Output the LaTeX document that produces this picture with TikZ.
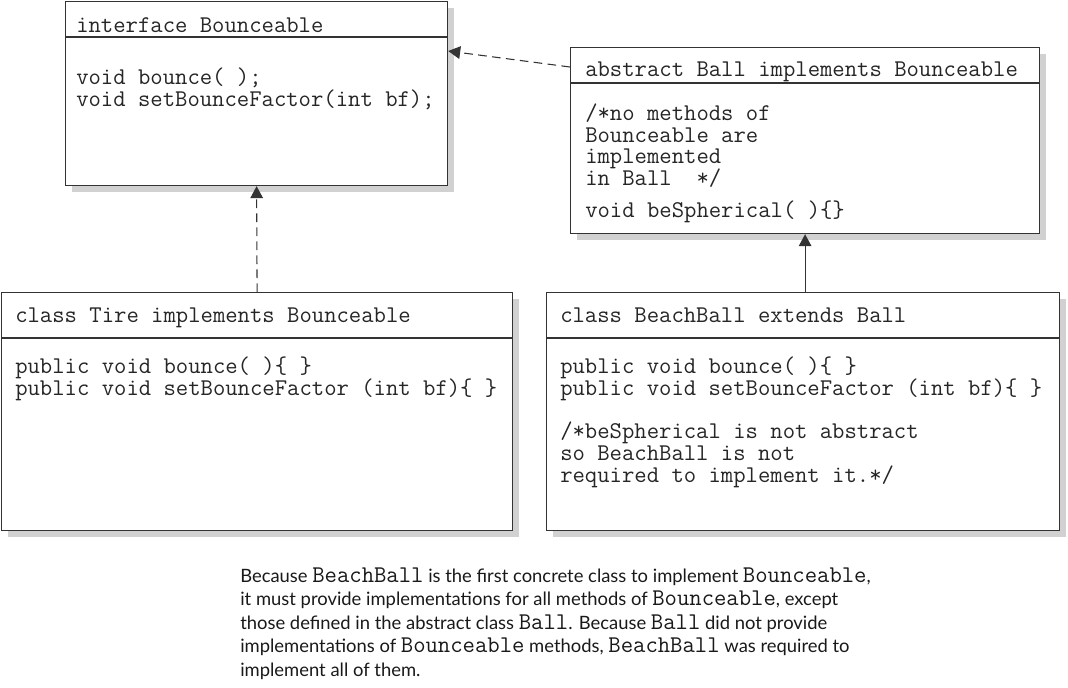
\documentclass[tikz,border=0pt]{standalone}
\usepackage{fontspec}
\setmainfont{Lato}
\newcommand{\codefont}{\ttfamily}
\newcommand{\tightlines}{\lineskiplimit=-20pt\relax}
\usetikzlibrary{arrows.meta, shadows, calc}
\newcommand{\cw}[1]{{\codefont\fontsize{18pt}{17pt}\selectfont #1}}

\begin{document}
\begin{tikzpicture}[x=0.75pt, y=-0.75pt, >={Triangle[length=9pt,width=9.5pt]},
  umlbox/.style={draw=black!80, line width=0.9pt, fill=white, anchor=north west,
    inner sep=0pt, drop shadow={shadow xshift=4.5pt, shadow yshift=-4.5pt, fill=black!18, opacity=1}},
  code/.style={anchor=base west, inner sep=0pt, align=left,
    font=\codefont\fontsize{18pt}{16.4pt}\selectfont\tightlines, text=black!85},
  link/.style={draw=black!80, line width=0.8pt},
  dashlink/.style={link, dash pattern=on 6.5pt off 4pt},
]
\useasboundingbox (0,0) rectangle (1068,687);
% the four classes
\node[umlbox, minimum width=286.5pt, minimum height=138pt] (iface) at (65,1) {};
\node[umlbox, minimum width=351.75pt, minimum height=139.5pt] (ball) at (570,47) {};
\node[umlbox, minimum width=383.25pt, minimum height=178.5pt] (tire) at (1,292) {};
\node[umlbox, minimum width=384.75pt, minimum height=178.5pt] (beach) at (546,292) {};
% header rules
\draw[link] ($(iface.north west)+(0,36)$) -- ($(iface.north east)+(0,36)$);
\draw[link] ($(ball.north west)+(0,36)$) -- ($(ball.north east)+(0,36)$);
\draw[link] ($(tire.north west)+(0,46)$) -- ($(tire.north east)+(0,46)$);
\draw[link] ($(beach.north west)+(0,46)$) -- ($(beach.north east)+(0,46)$);
% texts (base = last line)
\node[code] (ifaceHead) at (76,32) {interface Bounceable};
\node[code] (ifaceBody) at (76,106) {void bounce( );\\void setBounceFactor(int bf);};
\node[code] (ballHead) at (585,76) {abstract Ball implements Bounceable};
\node[code] (ballBody) at (585,217) {/*no methods of\\Bounceable are\\implemented\\in Ball~~*/\\[7pt]void beSpherical( )\{\}};
\node[code] (tireHead) at (15,322) {class Tire implements Bounceable};
\node[code] (tireBody) at (15,395) {public void bounce( )\{ \}\\public void setBounceFactor (int bf)\{ \}};
\node[code] (beachHead) at (560,322) {class BeachBall extends Ball};
\node[code] (beachBody) at (560,482) {public void bounce( )\{ \}\\public void setBounceFactor (int bf)\{ \}\\[15.5pt]/*beSpherical is not abstract\\so BeachBall is not\\required to implement it.*/};
% relations
\draw[dashlink, ->] ($(ball.north west)+(0,20)$) -- ($(iface.north east)+(0,50)$);
\draw[dashlink, ->] (tire.north) -- (iface.south);
\draw[link, ->] (ball.south |- beach.north) -- (ball.south);
% caption
\node[anchor=base west, inner sep=0pt, align=left, text=black!90,
  font=\fontsize{13.8pt}{17.6pt}\selectfont\tightlines] (note) at (240,676)
  {Because \cw{BeachBall} is the first concrete class to implement \cw{Bounceable},\\
   it must provide implementations for all methods of \cw{Bounceable}, except\\
   those defined in the abstract class \cw{Ball}. Because \cw{Ball} did not provide\\
   implementations of \cw{Bounceable} methods, \cw{BeachBall} was required to\\
   implement all of them.};
\end{tikzpicture}
\end{document}
